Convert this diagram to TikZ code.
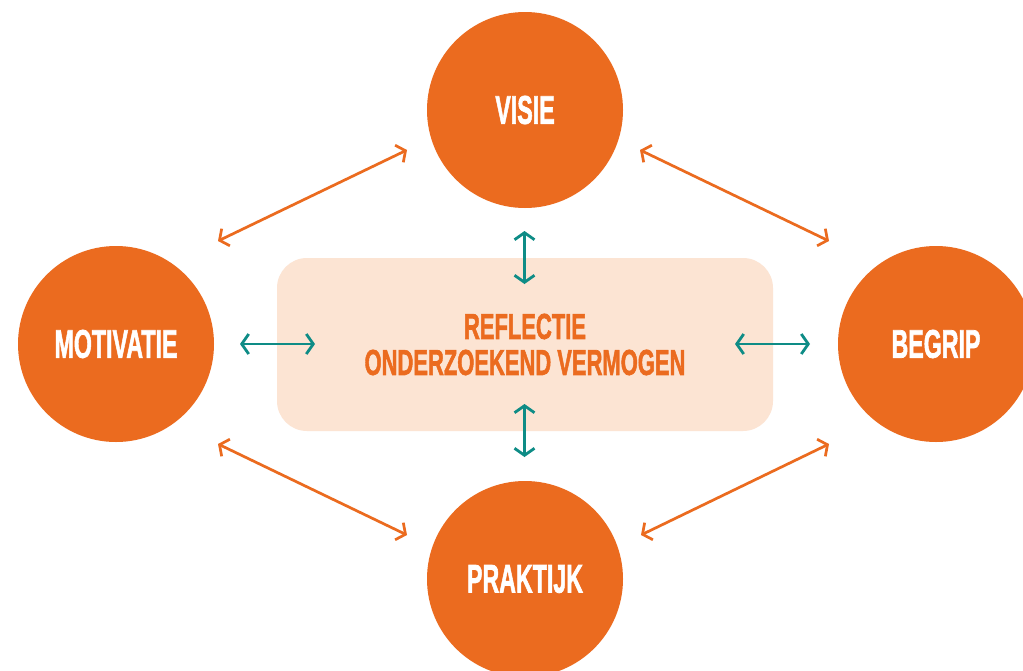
\documentclass[tikz,border=0pt]{standalone}
\usepackage{fontspec}
\setmainfont{Liberation Sans}
\newfontfamily\heavy{Liberation Sans Bold}[FakeBold=2]
\usetikzlibrary{arrows.meta}
\definecolor{oranje}{RGB}{235,107,31}
\definecolor{perzik}{RGB}{252,228,211}
\definecolor{teal}{RGB}{14,140,134}
\tikzset{
  bol/.style={circle, fill=oranje, minimum size=196pt, inner sep=0pt, text=white,
    font=\heavy\fontsize{40}{40}\selectfont},
  oarrow/.style={draw=oranje, line width=2.7pt, {Straight Barb[length=7pt,width=19pt]}-{Straight Barb[length=7pt,width=19pt]}},
  tarrow/.style={draw=teal, line width=2.8pt, {Straight Barb[length=7pt,width=20pt]}-{Straight Barb[length=7pt,width=20pt]}},
}
\newcommand{\cond}[1]{\scalebox{0.58}[1]{#1}}
\begin{document}
\begin{tikzpicture}[x=1pt,y=-1pt]
\useasboundingbox (0,0) rectangle (1023,670);
\clip (0,0) rectangle (1023,670);
\fill[white] (0,0) rectangle (1023,670);
\node[fill=perzik, rounded corners=30pt, minimum width=496pt, minimum height=173pt, inner sep=0pt,
  text=oranje, align=center, font=\heavy\fontsize{36}{36}\selectfont] (mid) at (525,344.5)
  {\scalebox{0.61}[1]{REFLECTIE}\\\scalebox{0.61}[1]{ONDERZOEKEND VERMOGEN}};
\node[bol] (visie) at (525,110) {\cond{VISIE}};
\node[bol] (motivatie) at (116,344) {\cond{MOTIVATIE}};
\node[bol] (begrip) at (936,344) {\cond{BEGRIP}};
\node[bol] (praktijk) at (525,579) {\cond{PRAKTIJK}};
% arrow ends
\coordinate (vm1) at (218,241); \coordinate (vm2) at (407,150);
\coordinate (vb1) at (640,150); \coordinate (vb2) at (829,241);
\coordinate (mp1) at (218,444); \coordinate (mp2) at (407,535);
\coordinate (bp1) at (829,444); \coordinate (bp2) at (641,535);
\coordinate (tl1) at (240,344); \coordinate (tl2) at (315,344);
\coordinate (tr1) at (735,344); \coordinate (tr2) at (810,344);
\coordinate (tt1) at (524.5,231); \coordinate (tt2) at (524.5,284);
\coordinate (tb1) at (524.5,404); \coordinate (tb2) at (524.5,457);
\draw[oarrow] (vm1) -- (vm2);
\draw[oarrow] (vb1) -- (vb2);
\draw[oarrow] (mp1) -- (mp2);
\draw[oarrow] (bp1) -- (bp2);
\draw[tarrow] (tl1) -- (tl2);
\draw[tarrow] (tr1) -- (tr2);
\draw[tarrow] (tt1) -- (tt2);
\draw[tarrow] (tb1) -- (tb2);
\end{tikzpicture}
\end{document}
